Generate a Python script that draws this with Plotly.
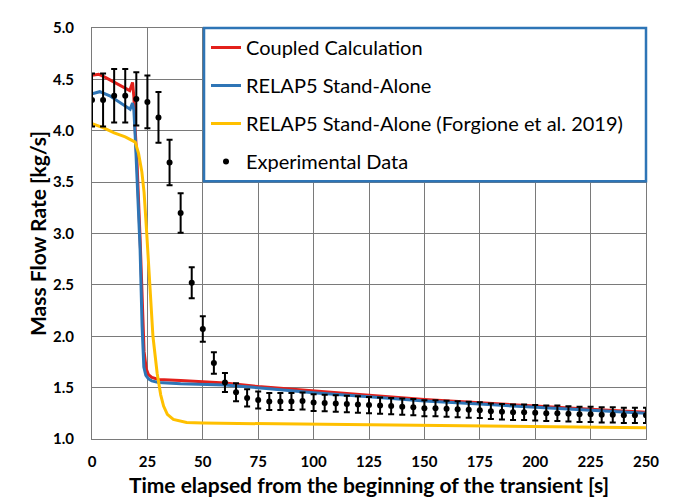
import plotly.graph_objects as go

# ---- data ----
coupled_t = [0, 3, 6, 11, 15.5, 17, 18.3, 18.9, 19.4, 20.3, 21.7, 22.8, 23.5, 24.5, 25.5, 27, 30, 40, 50, 60, 75, 100, 125, 150, 175, 200, 225, 250]
coupled_v = [4.54, 4.55, 4.52, 4.46, 4.41, 4.39, 4.47, 4.33, 4.05, 3.70, 2.95, 2.20, 1.85, 1.68, 1.625, 1.60, 1.58, 1.57, 1.555, 1.545, 1.51, 1.465, 1.425, 1.385, 1.35, 1.32, 1.29, 1.26]

relap_t = [0, 3.5, 8, 12, 15.5, 17.2, 18.3, 18.9, 19.6, 20.5, 21.7, 22.6, 23.4, 24.3, 25.5, 27, 30, 40, 60, 80, 100, 125, 150, 175, 200, 225, 250]
relap_v = [4.36, 4.38, 4.34, 4.28, 4.23, 4.21, 4.27, 4.20, 3.90, 3.40, 2.85, 2.10, 1.70, 1.62, 1.585, 1.565, 1.55, 1.537, 1.525, 1.49, 1.45, 1.41, 1.37, 1.34, 1.31, 1.28, 1.25]

forg_t = [0, 5, 10, 15, 19.5, 21, 22.5, 23.5, 24.7, 26, 27.5, 29.4, 31, 32.3, 34, 36.7, 40, 42.7, 50, 75, 100, 150, 200, 250]
forg_v = [4.07, 4.03, 3.98, 3.94, 3.89, 3.78, 3.60, 3.40, 3.00, 2.50, 2.00, 1.64, 1.43, 1.32, 1.24, 1.19, 1.17, 1.16, 1.155, 1.15, 1.145, 1.13, 1.12, 1.11]

exp_t = [0, 5, 10, 15, 20, 25, 30, 35, 40, 45, 50, 55, 60, 65, 70, 75, 80, 85, 90, 95,
         100, 105, 110, 115, 120, 125, 130, 135, 140, 145, 150, 155, 160, 165, 170, 175,
         180, 185, 190, 195, 200, 205, 210, 215, 220, 225, 230, 235, 240, 245, 250]
exp_v = [4.30, 4.30, 4.34, 4.34, 4.31, 4.28, 4.13, 3.69, 3.20, 2.52, 2.07, 1.74, 1.55, 1.455, 1.40, 1.38, 1.365, 1.365, 1.365, 1.37,
         1.355, 1.35, 1.345, 1.34, 1.335, 1.33, 1.325, 1.32, 1.315, 1.31, 1.30, 1.30, 1.295, 1.29, 1.285, 1.28,
         1.27, 1.265, 1.26, 1.26, 1.255, 1.25, 1.25, 1.245, 1.24, 1.24, 1.235, 1.235, 1.23, 1.23, 1.23]
exp_err_percent = 6

x_ticks = [0, 25, 50, 75, 100, 125, 150, 175, 200, 225, 250]
y_ticks = [1.0, 1.5, 2.0, 2.5, 3.0, 3.5, 4.0, 4.5, 5.0]

FONT = "Lato"
RED = "#E3201B"
BLUE = "#2E75B6"
YELLOW = "#FFC000"
GRID = "#7a7a7a"

fig = go.Figure()
fig.add_trace(go.Scatter(x=coupled_t, y=coupled_v, mode="lines", name="Coupled Calculation",
                         line=dict(color=RED, width=3), legendgroup="a"))
fig.add_trace(go.Scatter(x=relap_t, y=relap_v, mode="lines", name="RELAP5 Stand-Alone",
                         line=dict(color=BLUE, width=3), legendgroup="b"))
fig.add_trace(go.Scatter(x=forg_t, y=forg_v, mode="lines", name="RELAP5 Stand-Alone (Forgione et al. 2019)",
                         line=dict(color=YELLOW, width=3), legendgroup="c"))
fig.add_trace(go.Scatter(x=exp_t, y=exp_v, mode="markers", name="Experimental Data",
                         marker=dict(color="black", size=6),
                         error_y=dict(type="percent", value=exp_err_percent, color="black",
                                      thickness=2, width=3),
                         legendgroup="d"))

fig.update_layout(
    width=675, height=497,
    margin=dict(l=92, r=29, t=28, b=58),
    paper_bgcolor="white", plot_bgcolor="white",
    font=dict(family=FONT, color="black"),
    showlegend=True,
    legend=dict(x=0.2058, y=1.0, xanchor="left", yanchor="top",
                bgcolor="rgba(0,0,0,0)", borderwidth=0,
                font=dict(family=FONT, size=20, color="black"),
                tracegroupgap=9, itemwidth=30, traceorder="grouped"),
    shapes=[dict(type="rect", xref="paper", yref="paper", x0=0.2022, x1=1.0, y0=0.627, y1=1.0,
                 line=dict(color=BLUE, width=2.5), fillcolor="white", layer="above")],
    xaxis=dict(range=[0, 250], tickvals=x_ticks, ticktext=[str(v) for v in x_ticks],
               showgrid=True, gridcolor=GRID, gridwidth=1, zeroline=False,
               showline=True, linecolor=GRID, linewidth=1, mirror=True,
               ticks="", ticklabelstandoff=9, automargin=False,
               tickfont=dict(family=FONT, size=15, color="black", weight="bold"),
               title=dict(text="Time elapsed from the beginning of the transient [s]",
                          font=dict(family=FONT, size=21, color="black", weight="bold"),
                          standoff=11)),
    yaxis=dict(range=[1.0, 5.0], tickvals=y_ticks, ticktext=[f"{v:.1f}" for v in y_ticks],
               showgrid=True, gridcolor=GRID, gridwidth=1, zeroline=False,
               showline=True, linecolor=GRID, linewidth=1, mirror=True,
               ticks="", ticklabelstandoff=14, automargin=False,
               tickfont=dict(family=FONT, size=15, color="black", weight="bold"),
               title=dict(text="Mass Flow Rate [kg/s]",
                          font=dict(family=FONT, size=21, color="black", weight="bold"),
                          standoff=0)),
)

fig.write_html("out.html")
